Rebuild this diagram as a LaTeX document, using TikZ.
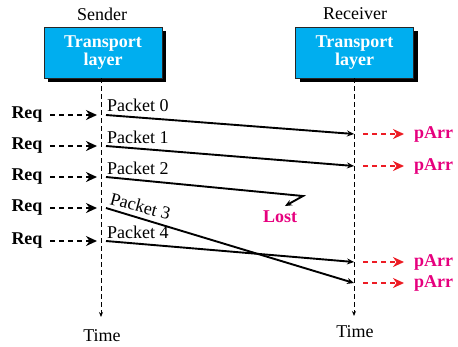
\documentclass[tikz,border=0pt]{standalone}
\usepackage{fontspec}
\setmainfont{Liberation Serif}
\usetikzlibrary{arrows.meta,shadows}
\definecolor{boxcyan}{HTML}{00AEEF}
\definecolor{mag}{HTML}{E6007E}
\definecolor{redarr}{HTML}{ED1C24}
\begin{document}
\begin{tikzpicture}[x=1bp,y=-1bp,
  txt/.style={font=\fontsize{18bp}{15.5bp}\selectfont, inner sep=0pt},
  btxt/.style={font=\fontsize{18bp}{15.5bp}\selectfont\bfseries, inner sep=0pt},
  layerbox/.style={draw=black!85, line width=0.8bp, fill=boxcyan, minimum width=118bp,
    minimum height=51bp, text=white, font=\fontsize{18bp}{15.5bp}\selectfont\bfseries,
    align=center, inner sep=0pt,
    drop shadow={shadow xshift=4bp, shadow yshift=-4bp, fill=black, opacity=1}},
  lifeline/.style={line width=0.9bp, dash pattern=on 5bp off 3bp, -{Stealth[length=5bp,width=4bp]}},
  packet/.style={line width=1.9bp, -{Stealth[length=7bp,width=6bp]}},
  reqarrow/.style={line width=1.9bp, dash pattern=on 5bp off 4bp, -{Stealth[length=11bp,width=10bp]}},
  parrarrow/.style={reqarrow, draw=redarr},
  magtxt/.style={btxt, text=mag}
]
\useasboundingbox (0,0) rectangle (458,346);

% headers
\node[txt] (sendlbl) at (102,14) {Sender};
\node[txt] (recvlbl) at (355,14) {Receiver};
\node[layerbox] (sbox) at (103,52.5) {Transport\\layer};
\node[layerbox] (rbox) at (354.5,52.5) {Transport\\layer};

% lifelines
\coordinate (sbot) at (101,317);
\coordinate (rbot) at (354,316);
\draw[lifeline] (sbox.south -| sbot) -- (sbot);
\draw[lifeline] (rbox.south -| rbot) -- (rbot);
\node[txt] (stime) at (102,336) {Time};
\node[txt] (rtime) at (355,332) {Time};

% sender side points
\coordinate (s0) at (106,115);
\coordinate (s1) at (106,146);
\coordinate (s2) at (106,177);
\coordinate (s3) at (106,208);
\coordinate (s4) at (106,241);
% receiver side points
\coordinate (r0) at (354,134);
\coordinate (r1) at (354,166);
\coordinate (r4) at (354,262);
\coordinate (r3) at (354,283);
\coordinate (lostturn) at (303,196);
\coordinate (lostend) at (285,206);

% request labels and arrows
\foreach \i/\y in {0/115,1/146,2/177,3/208,4/241}{
  \node[btxt] (req\i) at (27,\y) {Req};
  \coordinate (reqs\i) at (50,\y);
  \coordinate (reqe\i) at (97,\y);
  \draw[reqarrow] (reqs\i) -- (reqe\i);
}

% packets
\draw[packet] (s0) -- (r0);
\draw[packet] (s1) -- (r1);
\draw[packet] (s2) -- (lostturn) -- (lostend);
\draw[packet] (s3) -- (r3);
\draw[packet] (s4) -- (r4);

\node[txt, anchor=base west] (p0) at (107,111) {Packet 0};
\node[txt, anchor=base west] (p1) at (107,143) {Packet 1};
\node[txt, anchor=base west] (p2) at (107,174) {Packet 2};
\node[txt, anchor=base west, rotate=-15] (p3) at (109,204) {Packet 3};
\node[txt, anchor=base west] (p4) at (107,238) {Packet 4};

\node[magtxt] (lost) at (280,217) {Lost};

% arrivals
\foreach \i/\y in {0/134,1/166,4/262,3/283}{
  \coordinate (pas\i) at (363,\y);
  \coordinate (pae\i) at (404,\y);
  \draw[parrarrow] (pas\i) -- (pae\i);
  \node[magtxt, anchor=west] (parr\i) at (414,\y) {pArr};
}
\end{tikzpicture}
\end{document}
